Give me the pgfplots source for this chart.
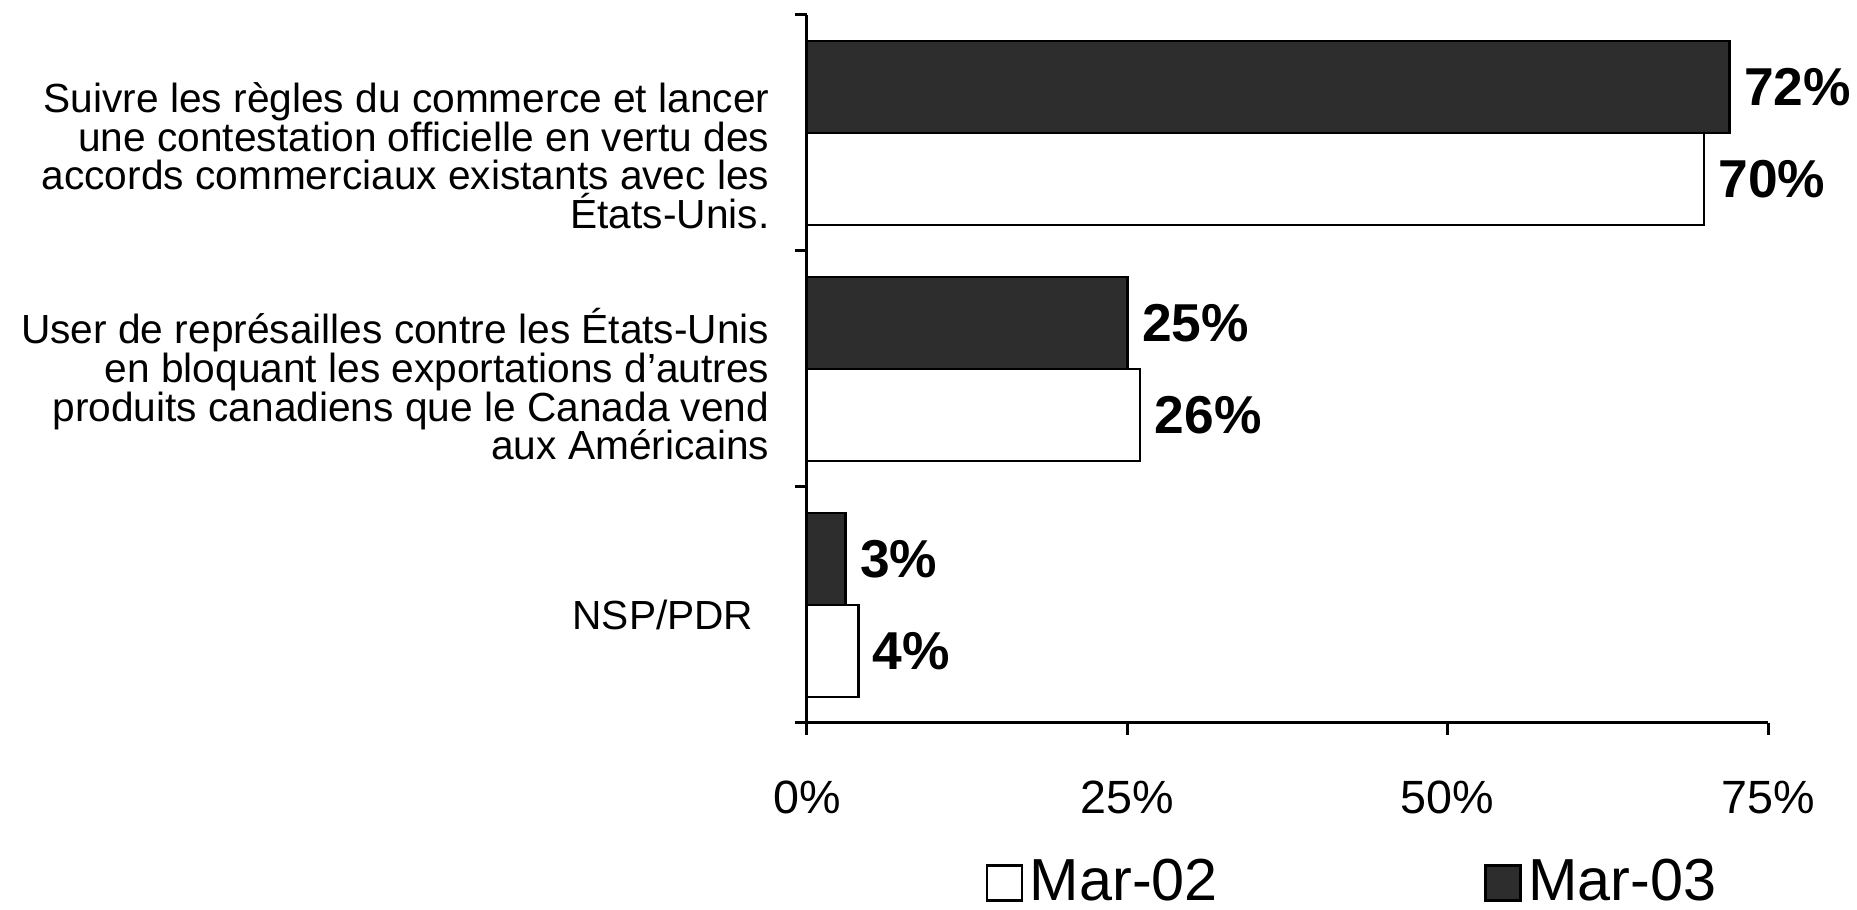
\documentclass[border=0pt]{standalone}
\usepackage{fontspec}
\setmainfont{Liberation Sans}
\usepackage{pgfplots}
\pgfplotsset{compat=1.18}
\definecolor{darkbar}{RGB}{45,45,45}
\newcommand\catlabel[1]{\vtop{\baselineskip=11.6pt\lineskiplimit=-\maxdimen\lineskip=0pt\halign{\hfil##\cr#1\crcr}}}
\begin{document}
\begin{tikzpicture}
\useasboundingbox (0,0) rectangle (557.1pt,273pt);
\begin{axis}[
  at={(242.1pt,56.1pt)}, anchor=south west,
  scale only axis, width=288.3pt, height=212.4pt,
  xmin=0, xmax=75, ymin=-0.5, ymax=2.5,
  clip=false,
  axis x line*=bottom, axis y line*=left,
  axis line style={-, line width=0.9pt},
  tick align=outside,
  major tick length=3.5pt,
  every tick/.style={black, line width=0.9pt},
  xtick={0,25,50,75},
  xticklabels={0\%,25\%,50\%,75\%},
  xticklabel style={font=\fontsize{14}{16}\selectfont, anchor=base, inner sep=0pt, yshift=-23.8pt},
  ytick={-0.5,0.5,1.5,2.5},
  yticklabels={},
  extra y ticks={0,1,2},
  extra y tick labels={
    {\raisebox{-7.3pt}[0pt][0pt]{NSP/PDR\hspace*{4.8pt}}},
    {\raisebox{7.5pt}[0pt][0pt]{\catlabel{User de représailles contre les États-Unis\cr en bloquant les exportations d’autres\cr produits canadiens que le Canada vend\cr aux Américains}}},
    {\raisebox{6.1pt}[0pt][0pt]{\catlabel{Suivre les règles du commerce et lancer\cr une contestation officielle en vertu des\cr accords commerciaux existants avec les\cr États-Unis.}}}
  },
  extra y tick style={major tick length=0pt},
  yticklabel style={font=\fontsize{12.2}{11.6}\selectfont, anchor=east, inner sep=0pt, xshift=-11.1pt},
  point meta=x,
  nodes near coords={\pgfmathprintnumber[assume math mode=true]{\pgfplotspointmeta}\%},
  every node near coord/.append style={font=\fontsize{16}{18}\selectfont\bfseries, inner sep=0pt, xshift=4pt, anchor=west, black},
  legend columns=2,
  legend style={draw=none, fill=none, inner sep=0pt, at={(axis description cs:0.1852,-0.2688)}, anchor=south west,
    font=\fontsize{17.8}{19}\selectfont,
    /tikz/every even column/.append style={column sep=77.8pt}},
  legend image code/.code={\draw[#1, line width=0.8pt] (0pt,-5.25pt) rectangle (10.5pt,5.25pt);},
]
\addplot[xbar, bar width=0.39, bar shift=-0.195, fill=white, draw=black, line width=0.8pt,
  every node near coord/.append style={yshift=-13.8pt}]
  coordinates {(70,2) (26,1) (4,0)};
\addlegendentry{Mar-02}
\addplot[xbar, bar width=0.39, bar shift=0.195, fill=darkbar, draw=black, line width=0.8pt,
  every node near coord/.append style={yshift=13.8pt}]
  coordinates {(72,2) (25,1) (3,0)};
\addlegendentry{Mar-03}
\end{axis}
\end{tikzpicture}
\end{document}
